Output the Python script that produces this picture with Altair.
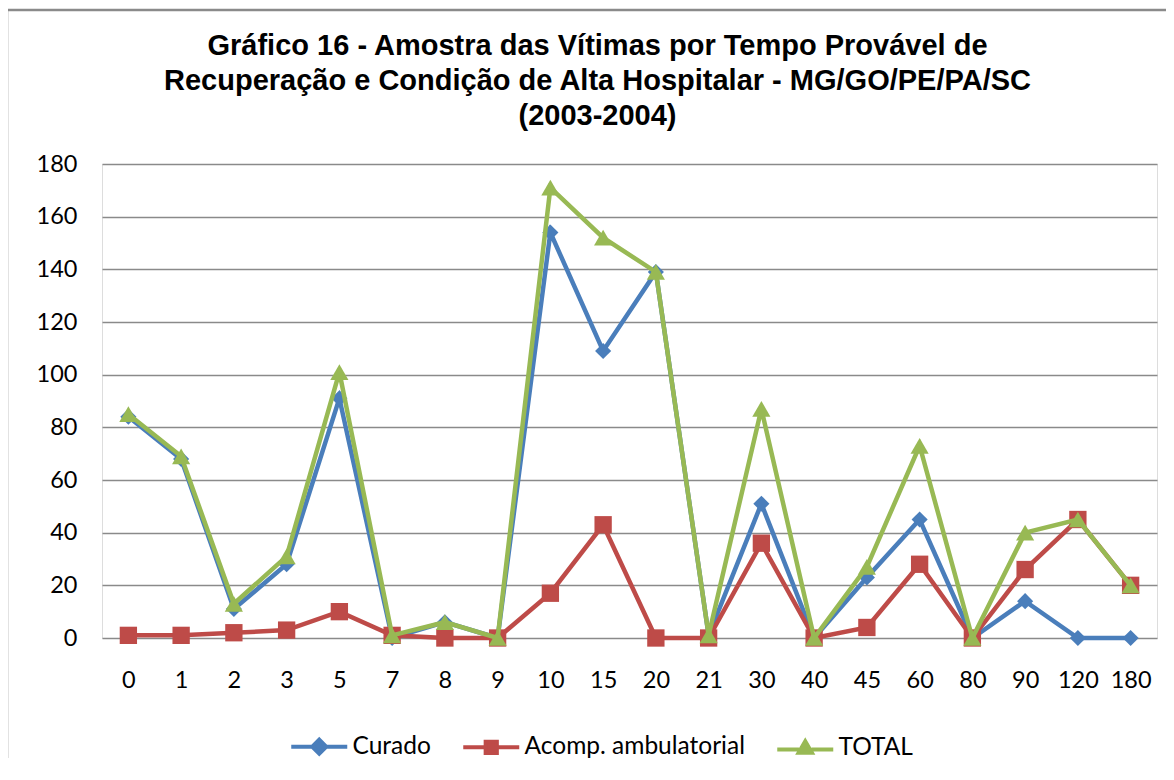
import altair as alt
import pandas as pd

cats = ["0", "1", "2", "3", "5", "7", "8", "9", "10", "15", "20", "21",
        "30", "40", "45", "60", "80", "90", "120", "180"]
curado = [84, 68, 11, 28, 91, 0, 6, 0, 154, 109, 139, 1, 51, 0, 23, 45, 0, 14, 0, 0]
acomp = [1, 1, 2, 3, 10, 1, 0, 0, 17, 43, 0, 0, 36, 0, 4, 28, 0, 26, 45, 20]
total = [85, 69, 13, 31, 101, 1, 6, 0, 171, 152, 139, 1, 87, 0, 27, 73, 0, 40, 45, 20]

series_names = ["Curado", "Acomp. ambulatorial", "TOTAL"]
colors = ["#4A7EBB", "#BE4B48", "#98B954"]
shapes = ["diamond", "square", "triangle-up"]
marker_sizes = [260, 300, 330]
legend_shapes = [
    "M-4,0L-1,0M1,0L4,0M0,-1L1,0L0,1L-1,0Z",
    "M-4,0L-0.8,0M0.8,0L4,0M-0.8,-0.8L0.8,-0.8L0.8,0.8L-0.8,0.8Z",
    "M-4,0.3L-0.9,0.3M0.9,0.3L4,0.3M0,-0.9L0.95,0.75L-0.95,0.75Z",
]

rows = []
for name, vals in zip(series_names, [curado, acomp, total]):
    for c, v in zip(cats, vals):
        rows.append({"cat": c, "series": name, "value": v})
df = pd.DataFrame(rows)

W, H = 1055, 474
x_enc = alt.X("cat:O", sort=cats, scale=alt.Scale(padding=0.5),
              axis=alt.Axis(title=None, labelAngle=0, grid=False, domain=False,
                            ticks=False, labelFont="Lato", labelFontSize=23.5,
                            labelColor="#000", labelPadding=30))
y_enc = alt.Y("value:Q", scale=alt.Scale(domain=[0, 180], nice=False),
              axis=alt.Axis(title=None, values=list(range(0, 181, 20)),
                            grid=True, gridColor="#8a8a8a", gridWidth=1.5,
                            domain=False, ticks=False, labelFont="Lato",
                            labelFontSize=23.5, labelColor="#000",
                            labelPadding=25))

layers = []
for name, col, shp, sz in zip(series_names, colors, shapes, marker_sizes):
    base = alt.Chart(df).transform_filter(alt.datum.series == name)
    layers.append(base.mark_line(strokeWidth=4.5, color=col).encode(x=x_enc, y=y_enc))
    layers.append(base.mark_point(filled=True, opacity=1, color=col, shape=shp,
                                  size=sz).encode(x=x_enc, y=y_enc))

color_scale = alt.Scale(domain=series_names, range=colors)
leg = alt.Legend(title=None)
legend_layer = alt.Chart(df).mark_point(filled=True, opacity=1, strokeWidth=4).encode(
    x=x_enc, y=y_enc,
    color=alt.Color("series:N", scale=color_scale, legend=leg),
    stroke=alt.Stroke("series:N", scale=color_scale, legend=leg),
    shape=alt.Shape("series:N", scale=alt.Scale(domain=series_names, range=legend_shapes),
                    legend=leg),
).transform_filter("false")

border = alt.Chart(pd.DataFrame({"k": [0]})).mark_rule(color="#8a8a8a", strokeWidth=2.5).encode(
    x=alt.value(-95), x2=alt.value(1100), y=alt.value(-154)
)
border_left = alt.Chart(pd.DataFrame({"k": [0]})).mark_rule(color="#8a8a8a", strokeWidth=2.5).encode(
    x=alt.value(-95), y=alt.value(-154), y2=alt.value(700)
)

chart = alt.layer(border, border_left, *layers, legend_layer).properties(
    width=W, height=H,
    title=alt.TitleParams(
        text=["Gráfico 16 - Amostra das Vítimas por Tempo Provável de",
              "Recuperação e Condição de Alta Hospitalar - MG/GO/PE/PA/SC",
              "(2003-2004)"],
        font="Liberation Sans", fontSize=29, fontWeight="bold", color="#000",
        lineHeight=35, anchor="middle", offset=-122, dx=-32,
    ),
    autosize=alt.AutoSizeParams(type="none"),
    padding={"left": 94, "top": 156, "right": 9, "bottom": 120},
).configure_view(stroke=None).configure(background="white").configure_legend(
    orient="none", legendX=205, legendY=570, direction="horizontal",
    symbolSize=196, symbolStrokeWidth=4, labelOffset=21, columnPadding=24,
    labelFont="Lato", labelFontSize=24.5, labelColor="#000", symbolOpacity=1,
    labelLimit=0,
)

chart.save("out.html", embed_options={"renderer": "svg", "actions": False})
